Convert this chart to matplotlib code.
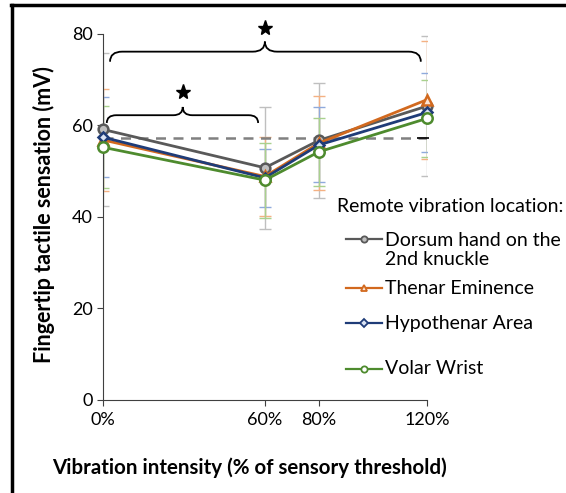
import matplotlib
matplotlib.use("Agg")
import matplotlib.pyplot as plt
from matplotlib.path import Path
import matplotlib.patches as patches
from matplotlib.lines import Line2D

plt.rcParams["font.family"] = ["Lato", "DejaVu Sans"]

# ---------------------------------------------------------------------------
# Data
# ---------------------------------------------------------------------------
intensity = [0, 60, 80, 120]                 # % of sensory threshold
tick_labels = ["0%", "60%", "80%", "120%"]

series_names = [
    "Dorsum hand on the\n2nd knuckle",
    "Thenar Eminence",
    "Hypothenar Area",
    "Volar Wrist",
]
dorsum_mean = [59.1, 50.7, 56.7, 64.2]
dorsum_err = [16.7, 13.3, 12.5, 15.4]
thenar_mean = [56.8, 48.8, 56.1, 65.6]
thenar_err = [11.2, 8.7, 10.2, 12.9]
hypothenar_mean = [57.4, 48.5, 55.7, 62.8]
hypothenar_err = [8.7, 6.4, 8.2, 8.7]
volar_mean = [55.2, 48.0, 54.2, 61.5]
volar_err = [9.0, 8.2, 7.4, 8.4]

baseline = 57.3                              # dashed reference level

# significance brackets: (x start, x end, tip x)
bracket_short = (1.5, 57.5, 29.6)
bracket_long = (2.7, 117.7, 60.0)

# ---------------------------------------------------------------------------
# Styles
# ---------------------------------------------------------------------------
LINE_CLR = ["#595959", "#D2691E", "#1F3C78", "#4E8B2E"]
FILL_CLR = ["#BFBFBF", "#FBE5D6", "#DAE3F3", "#FFFFFF"]
ERR_CLR = ["#BFBFBF", "#F4B183", "#8FAADC", "#A9D18E"]
MARKERS = ["o", "^", "D", "o"]
MSIZE = [7, 7, 5.5, 7.5]

W, H = 566, 493


def draw_brace(ax, x0, x1, xm, y_end, y_flat, y_tip, r):
    verts = [
        (x0, y_end), (x0, y_flat), (x0 + r, y_flat),
        (xm - r, y_flat),
        (xm, y_flat), (xm, y_tip),
        (xm, y_flat), (xm + r, y_flat),
        (x1 - r, y_flat),
        (x1, y_flat), (x1, y_end),
    ]
    codes = [
        Path.MOVETO, Path.CURVE3, Path.CURVE3,
        Path.LINETO,
        Path.CURVE3, Path.CURVE3,
        Path.CURVE3, Path.CURVE3,
        Path.LINETO,
        Path.CURVE3, Path.CURVE3,
    ]
    ax.add_patch(patches.PathPatch(Path(verts, codes), facecolor="none",
                                   edgecolor="black", lw=1.3, clip_on=False,
                                   zorder=6))


fig = plt.figure(figsize=(W / 100, H / 100), dpi=100)
ax = fig.add_axes([0.1815, 0.1894, 0.573, 0.742])

means = [dorsum_mean, thenar_mean, hypothenar_mean, volar_mean]
errs = [dorsum_err, thenar_err, hypothenar_err, volar_err]

for i in range(4):
    ax.errorbar(intensity, means[i], yerr=errs[i], fmt="none",
                ecolor=ERR_CLR[i], elinewidth=1.0, capsize=4,
                capthick=1.0, zorder=2)

ax.plot([intensity[0], intensity[-1]], [baseline, baseline], "--",
        color="#808080", lw=1.8, dashes=(4, 3), zorder=3)
ax.plot([intensity[-1] - 1.5], [baseline], marker="_", color="black",
        markersize=8, mew=1.2, zorder=3, clip_on=False)

for i in range(4):
    ax.plot(intensity, means[i], "-", color=LINE_CLR[i], lw=2.0,
            marker=MARKERS[i], markersize=MSIZE[i],
            markerfacecolor=FILL_CLR[i], markeredgecolor=LINE_CLR[i],
            markeredgewidth=1.8, zorder=4 + i * 0.1, clip_on=False)

# significance brackets and stars
x0, x1, xm = bracket_short
draw_brace(ax, x0, x1, xm, 60.5, 62.2, 64.0, 3.5)
ax.plot([xm], [67.3], marker="*", color="black", markersize=11, zorder=6)
x0, x1, xm = bracket_long
draw_brace(ax, x0, x1, xm, 73.9, 76.1, 78.3, 4.5)
ax.plot([xm], [81.3], marker="*", color="black", markersize=11, zorder=6,
        clip_on=False)

ax.set_xlim(0, 120)
ax.set_ylim(0, 80)
ax.set_xticks(intensity)
ax.set_xticklabels(tick_labels)
ax.set_yticks([0, 20, 40, 60, 80])
ax.tick_params(axis="both", direction="out", length=4, width=0.8,
               labelsize=13, color="#404040", pad=3)
ax.tick_params(axis="x", pad=5)
for s in ["top", "right"]:
    ax.spines[s].set_visible(False)
for s in ["left", "bottom"]:
    ax.spines[s].set_color("#404040")
    ax.spines[s].set_linewidth(0.8)

fig.text(44 / W, 1 - 215 / H, "Fingertip tactile sensation (mV)",
         rotation=90, ha="center", va="center", fontsize=15.5,
         fontweight="bold")
fig.text(52 / W, 1 - 468 / H, "Vibration intensity (% of sensory threshold)",
         ha="left", va="center", fontsize=14.8, fontweight="bold")

# legend, laid out like the spreadsheet one
fig.text(337 / W, 1 - 207 / H, "Remote vibration location:", ha="left",
         va="center", fontsize=14)
handle_y = [239, 288, 323, 369]
text_y = [250, 288, 323, 369]
for i in range(4):
    yy = 1 - handle_y[i] / H
    fig.add_artist(Line2D([346 / W, 382 / W], [yy, yy], color=LINE_CLR[i],
                          lw=1.6, transform=fig.transFigure))
    fig.add_artist(Line2D([364 / W], [yy], marker=MARKERS[i],
                          markersize=4.5 if MARKERS[i] != "D" else 3.8,
                          markerfacecolor=FILL_CLR[i],
                          markeredgecolor=LINE_CLR[i], markeredgewidth=1.3,
                          transform=fig.transFigure))
    fig.text(385 / W, 1 - text_y[i] / H, series_names[i], ha="left",
             va="center", fontsize=14, linespacing=1.1)

# outer frame lines (left and top)
fig.add_artist(Line2D([0.021, 0.021], [0, 0.99], color="black", lw=2.5,
                      transform=fig.transFigure))
fig.add_artist(Line2D([0.019, 1.0], [0.99, 0.99], color="black", lw=2.5,
                      transform=fig.transFigure))

fig.savefig("out.png", dpi=100)
